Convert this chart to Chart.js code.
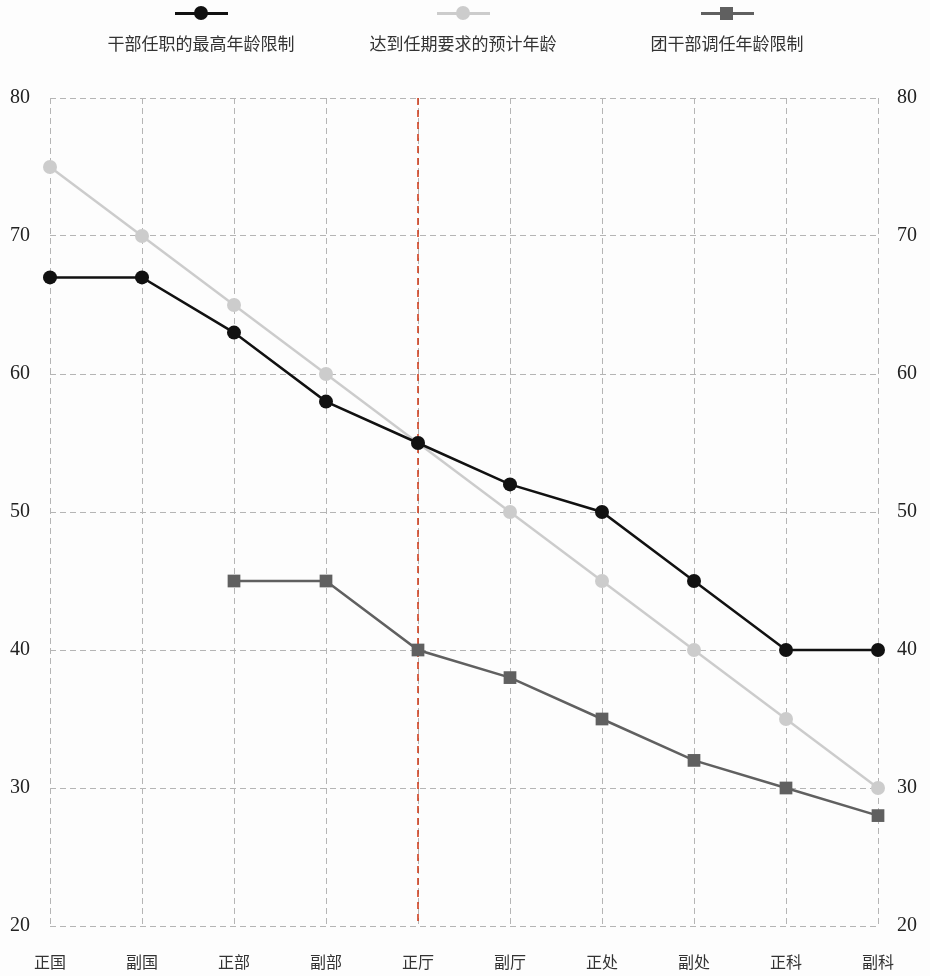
<!DOCTYPE html>
<html><head><meta charset="utf-8">
<script src="https://cdn.jsdelivr.net/npm/chart.js@4"></script>
<style>
html,body{margin:0;padding:0;background:#fdfdfd;}
#wrap{position:relative;width:930px;height:976px;}
#legend{position:absolute;top:0;left:0;width:930px;height:70px;font-family:"Noto Sans CJK SC",sans-serif;}
.item{position:absolute;top:0;width:240px;text-align:center;}
.sym{position:relative;height:26px;}
.txt{font-size:17px;color:#333;line-height:22px;margin-top:6px;}
canvas{position:absolute;top:0;left:0;}
</style></head>
<body><div id="wrap"><canvas id="c" width="930" height="976"></canvas><div id="legend"></div></div>
<script>
const categories = ["正国","副国","正部","副部","正厅","副厅","正处","副处","正科","副科"];
const maxAgeLimit = [67,67,63,58,55,52,50,45,40,40];
const expectedAge = [75,70,65,60,55,50,45,40,35,30];
const leagueTransferLimit = [null,null,45,45,40,38,35,32,30,28];
const seriesNames = ["干部任职的最高年龄限制","达到任期要求的预计年龄","团干部调任年龄限制"];
const yTicks = [20,30,40,50,60,70,80];
const markerIndex = 4;

const colors = ["#111111","#cccccc","#606060"];
const styles = ["circle","circle","rect"];
const legendX = [201,463,727];
const lg = document.getElementById('legend');
seriesNames.forEach((n,i)=>{
  const d = document.createElement('div');
  d.className='item'; d.style.left=(legendX[i]-120)+'px';
  const mk = i===2
    ? `<div style="position:absolute;left:113px;top:7px;width:13px;height:13px;background:${colors[i]}"></div>`
    : `<div style="position:absolute;left:113px;top:6px;width:14px;height:14px;border-radius:50%;background:${colors[i]}"></div>`;
  d.innerHTML = `<div class="sym"><div style="position:absolute;left:94px;top:12px;width:53px;height:3px;background:${colors[i]}"></div>${mk}</div><div class="txt">${n}</div>`;
  lg.appendChild(d);
});

const vline = {
  id:'vline',
  beforeDatasetsDraw(chart){
    const {ctx, chartArea, scales} = chart;
    const x = scales.x.getPixelForValue(markerIndex);
    ctx.save();
    ctx.strokeStyle = '#cc3311'; ctx.lineWidth = 1.5; ctx.setLineDash([7,5]);
    ctx.beginPath(); ctx.moveTo(x, chartArea.top); ctx.lineTo(x, chartArea.bottom); ctx.stroke();
    ctx.restore();
  }
};

const serif = "'Liberation Serif','Noto Sans CJK SC',serif";
const datasets = [maxAgeLimit, expectedAge, leagueTransferLimit].map((d,i)=>({
  label: seriesNames[i], data: d,
  borderColor: colors[i], backgroundColor: colors[i],
  borderWidth: 2.5, pointStyle: styles[i], pointRadius: i===2?9:7, pointHoverRadius: i===2?9:7,
  pointBorderWidth: 0, tension: 0, spanGaps: false, yAxisID: 'y', order: i===1?3:(i===0?1:2)
}));

new Chart(document.getElementById('c'), {
  type:'line',
  data:{labels:categories, datasets},
  options:{
    responsive:false, animation:false, devicePixelRatio:1,
    layout:{padding:{top:98,left:0,right:0,bottom:0}},
    plugins:{legend:{display:false}, tooltip:{enabled:false}},
    scales:{
      x:{offset:false,
        afterFit(s){ s.height = 50; },
        grid:{color:'#b5b5b5', lineWidth:1, drawTicks:false},
        border:{display:false,dash:[6,4]},
        ticks:{font:{family:"'Noto Sans CJK SC',sans-serif",size:16}, color:'#333', padding:26, maxRotation:0, autoSkip:false}
      },
      y:{position:'left', min:20, max:80,
        afterBuildTicks(s){ s.ticks = yTicks.map(v=>({value:v})); },
        afterFit(s){ s.width = 50; },
        grid:{color:'#b5b5b5', lineWidth:1, drawTicks:false},
        border:{display:false,dash:[6,4]},
        ticks:{font:{family:serif,size:20}, color:'#222', padding:20}
      },
      y2:{position:'right', min:20, max:80,
        afterBuildTicks(s){ s.ticks = yTicks.map(v=>({value:v})); },
        afterFit(s){ s.width = 52; },
        grid:{display:false, drawTicks:false},
        border:{display:false},
        ticks:{font:{family:serif,size:20}, color:'#222', padding:19}
      }
    }
  },
  plugins:[vline]
});
</script></body></html>
